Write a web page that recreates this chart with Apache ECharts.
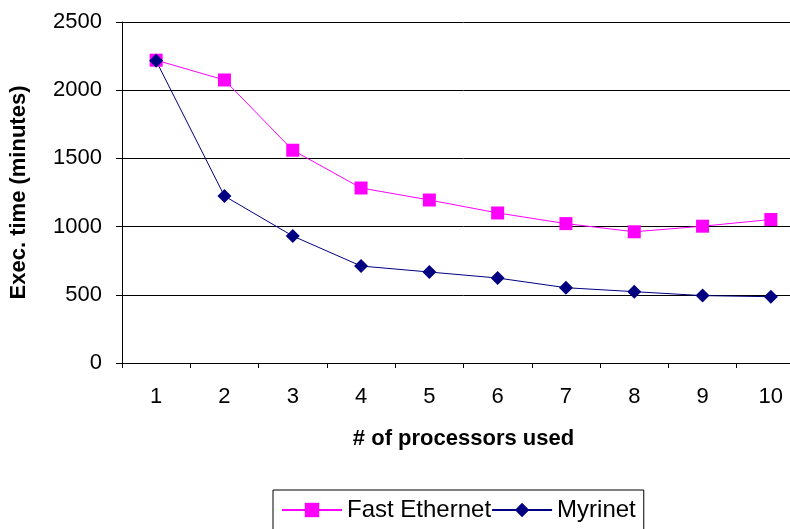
<!DOCTYPE html>
<html>
<head>
<meta charset="utf-8">
<script src="https://cdn.jsdelivr.net/npm/echarts@6/dist/echarts.min.js"></script>
<style>
  html, body { margin: 0; padding: 0; background: #fff; overflow: hidden; }
  #frame { width: 790px; height: 529px; overflow: hidden; }
  /* the plot area runs a little past the right edge of the frame */
  #chart { width: 810px; height: 529px; }
</style>
</head>
<body>
<div id="frame"><div id="chart"></div></div>
<script>
// Number of processors on the x axis
const processors = ['1', '2', '3', '4', '5', '6', '7', '8', '9', '10'];
// Execution time in minutes per interconnect
const fastEthernet = [2220, 2075, 1560, 1283, 1195, 1100, 1022, 962, 1003, 1052];
const myrinet = [2215, 1224, 931, 711, 667, 623, 552, 523, 494, 486];
// Value axis ticks
const yTicks = [0, 500, 1000, 1500, 2000, 2500];

const font = '"Liberation Sans", Arial, sans-serif';
const chart = echarts.init(document.getElementById('chart'), null, { renderer: 'canvas' });

chart.setOption({
  animation: false,
  backgroundColor: '#ffffff',
  grid: { left: 120, top: 22, bottom: 166, width: 685, containLabel: false },
  xAxis: {
    type: 'category',
    data: processors,
    boundaryGap: true,
    name: '# of processors used',
    nameLocation: 'middle',
    nameGap: 65,
    nameTextStyle: { fontFamily: font, fontWeight: 'bold', fontSize: 22, color: '#000' },
    axisLine: { lineStyle: { color: '#000', width: 1 } },
    axisTick: { show: true, length: 5, lineStyle: { color: '#000' } },
    axisLabel: { fontFamily: font, fontSize: 22, color: '#000', margin: 23 },
    splitLine: { show: false }
  },
  yAxis: {
    type: 'value',
    min: yTicks[0],
    max: yTicks[yTicks.length - 1],
    interval: 500,
    name: 'Exec. time (minutes)',
    nameLocation: 'middle',
    nameGap: 92,
    nameRotate: 90,
    nameTextStyle: { fontFamily: font, fontWeight: 'bold', fontSize: 22, color: '#000' },
    axisLine: { show: true, lineStyle: { color: '#000', width: 1 } },
    axisTick: { show: true, length: 6, lineStyle: { color: '#000' } },
    axisLabel: { fontFamily: font, fontSize: 22, color: '#000', margin: 20, formatter: v => String(v) },
    splitLine: { show: true, lineStyle: { color: '#000', width: 1 } }
  },
  legend: {
    left: 273,
    top: 490,
    orient: 'horizontal',
    backgroundColor: '#fff',
    borderColor: '#000',
    borderWidth: 1,
    padding: [8, 8, 14, 8],
    itemWidth: 60,
    itemHeight: 18,
    itemGap: 0,
    textStyle: { fontFamily: font, fontSize: 24, color: '#000', padding: [0, 0, 0, 0] },
    data: ['Fast Ethernet', 'Myrinet']
  },
  series: [
    {
      name: 'Fast Ethernet',
      type: 'line',
      data: fastEthernet,
      symbol: 'rect',
      symbolSize: 13,
      lineStyle: { color: '#ff00ff', width: 1 },
      itemStyle: { color: '#ff00ff' }
    },
    {
      name: 'Myrinet',
      type: 'line',
      data: myrinet,
      symbol: 'diamond',
      symbolSize: 14,
      lineStyle: { color: '#000080', width: 1 },
      itemStyle: { color: '#000080' }
    }
  ]
});
</script>
</body>
</html>
